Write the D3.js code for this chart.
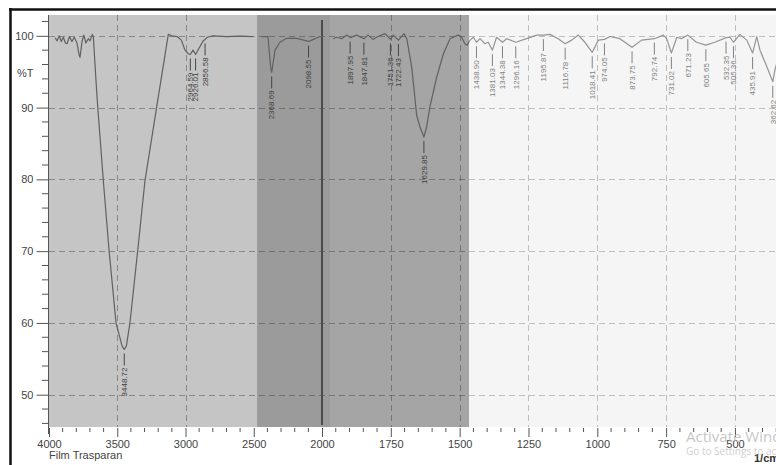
<!DOCTYPE html>
<html>
<head>
<meta charset="utf-8">
<script src="https://cdn.jsdelivr.net/npm/d3@7"></script>
<style>
    html, body { margin: 0; padding: 0; background: #fff; }
    svg { display: block; font-family: "Liberation Sans", Arial, sans-serif; }
</style>
</head>
<body>
<div id="chart"></div>
<script>
// spectrum as [wavenumber (1/cm), %T]; null marks a gap in the trace
const spectrum = [
    [3955, 99.7], [3940, 99.3], [3925, 100.0], [3910, 99.2], [3895, 99.8], [3880, 99.0],
    [3868, 98.9], [3850, 99.9], [3832, 99.2], [3815, 99.8], [3795, 99.0], [3780, 97.4],
    [3773, 97.0], [3758, 99.2], [3745, 100.1], [3730, 99.0], [3712, 99.6], [3700, 99.3],
    [3682, 100.2], [3675, 99.8], [3656, 93.8], [3643, 90.1], [3602, 79.8], [3560, 70.1],
    [3509, 60.0], [3465, 56.8], [3448.72, 56.3], [3433, 56.8], [3407, 60.0], [3350, 70.1],
    [3297, 79.8], [3211, 90.1], [3126, 100.2],
    [3100, 100.0], [3062, 99.9], [3030, 99.4], [3004, 98.0], [2980, 97.5], [2964.59, 97.4],
    [2945, 98.0], [2926.01, 97.4], [2900, 98.3], [2870, 99.3], [2856.58, 99.5], [2840, 99.8],
    [2800, 100.0], [2700, 99.9], [2600, 99.95], [2505, 99.9],
    [2490, null],
    [2442, 99.9], [2396, 99.9], [2376, 95.6], [2368.69, 94.9], [2344, 98.0], [2308, 99.1],
    [2259, 99.65], [2185, 99.65], [2112, 99.3], [2098.55, 99.2], [2075, 99.4], [2015, 99.9],
    [1996, 99.9],
    [1975, null],
    [1959, 99.6], [1947, 99.8], [1928, 99.6], [1910, 100.1], [1897.95, 99.75], [1874, 100.1],
    [1847.81, 99.6], [1833, 100.1], [1815, 99.5], [1797, 99.9], [1771, 100.3], [1751.36, 99.5],
    [1741, 100.1], [1722.43, 99.4], [1702, 100.3], [1692, 99.6], [1674, 95.6], [1656, 88.9],
    [1644, 87.3], [1629.85, 85.9], [1620, 87.3], [1608, 90.1], [1583, 94.3], [1559, 97.5],
    [1535, 99.6], [1517, 99.9], [1505, 100.1], [1493, 99.8], [1481, 98.9], [1473, 98.7],
    [1462, 99.4], [1450, 99.8], [1438.90, 99.1], [1426, 99.6], [1408, 98.9], [1396, 99.1],
    [1381.03, 98.0], [1366, 99.8], [1344.38, 99.1], [1329, 99.6], [1296.16, 99.1], [1257, 99.6],
    [1220, 100.1], [1195.87, 100.1], [1172, 100.2], [1142, 99.6], [1116.78, 98.9], [1093, 99.4],
    [1069, 100.1], [1045, 99.1], [1018.41, 97.7], [996, 99.4], [974.05, 99.5], [954, 99.9],
    [918, 99.6], [873.75, 98.4], [839, 99.4], [792.74, 99.6], [760, 100.1], [748, 99.6],
    [731.02, 97.6], [711, 99.8], [694, 99.6], [671.23, 100.1], [640, 99.1], [605.65, 98.7],
    [573, 99.1], [532.35, 99.75], [518, 99.8], [505.36, 99.1], [482, 100.2], [457, 99.4],
    [435.91, 97.6], [421, 99.9], [409, 98.0], [379, 95.2], [362.62, 93.6], [355, 95.2],
    [340, 97.3]
];

const peakLabels = [
    3448.72, 2964.59, 2926.01, 2856.58, 2368.69, 2098.55, 1897.95, 1847.81, 1751.36,
    1722.43, 1629.85, 1438.90, 1381.03, 1344.38, 1296.16, 1195.87, 1116.78, 1018.41,
    974.05, 873.75, 792.74, 731.02, 671.23, 605.65, 532.35, 505.36, 435.91, 362.62
];

const yTicks = [50, 60, 70, 80, 90, 100];
const xTicks = [4000, 3500, 3000, 2500, 2000, 1750, 1500, 1250, 1000, 750, 500];
const xGrid = [3500, 3000, 1750, 1500, 1250, 1000, 750, 500];
const bandEdges = [4000, 2476, 1971, 1466, 340];
const bandFill = ["#c5c5c5", "#9b9b9b", "#a5a5a5", "#f4f4f4"];

const width = 776, height = 465;
const plotTop = 15, plotBottom = 427, plotLeft = 49, plotRight = 779;

const svg = d3.select("#chart").append("svg")
    .attr("width", width)
    .attr("height", height);

// wavenumber axis is expanded below 2000 1/cm
const x = d3.scaleLinear().domain([4000, 2000, 340]).range([plotLeft, 322, plotRight]);
const y = d3.scaleLinear().domain([45.5, 102.9]).range([plotBottom, plotTop]);

// background bands
svg.append("g").selectAll("rect")
    .data(d3.range(bandFill.length))
    .enter().append("rect")
    .attr("x", i => x(bandEdges[i]))
    .attr("y", plotTop)
    .attr("width", i => x(bandEdges[i + 1]) - x(bandEdges[i]))
    .attr("height", plotBottom - plotTop)
    .attr("fill", i => bandFill[i]);

// dashed grid
const grid = svg.append("g")
    .attr("stroke", "rgba(60,60,60,0.45)")
    .attr("stroke-dasharray", "6,4")
    .attr("stroke-width", 1);
grid.selectAll("line.h").data(yTicks).enter().append("line")
    .attr("class", "h")
    .attr("x1", plotLeft).attr("x2", plotRight)
    .attr("y1", d => Math.round(y(d)) + 0.5).attr("y2", d => Math.round(y(d)) + 0.5);
grid.selectAll("line.v").data(xGrid).enter().append("line")
    .attr("class", "v")
    .attr("x1", d => Math.round(x(d)) + 0.5).attr("x2", d => Math.round(x(d)) + 0.5)
    .attr("y1", plotTop).attr("y2", plotBottom);

// solid marker at 2000
svg.append("line")
    .attr("x1", x(2000)).attr("x2", x(2000))
    .attr("y1", 20).attr("y2", plotBottom - 2)
    .attr("stroke", "#4a4a4a")
    .attr("stroke-width", 2);

// spectrum trace
const line = d3.line()
    .defined(d => d[1] != null)
    .x(d => x(d[0]))
    .y(d => y(d[1]));

svg.append("path")
    .datum(spectrum)
    .attr("d", line)
    .attr("fill", "none")
    .attr("stroke", "#616161")
    .attr("stroke-width", 1.2)
    .attr("stroke-linejoin", "round");

// %T of the trace at a wavenumber
function valueAt(wn) {
    const pts = spectrum.filter(d => d[1] != null);
    for (let i = 0; i < pts.length - 1; i++) {
        const a = pts[i], b = pts[i + 1];
        if (wn <= a[0] && wn >= b[0]) {
            const t = (a[0] - wn) / (a[0] - b[0]);
            return a[1] + t * (b[1] - a[1]);
        }
    }
    return 100;
}

// peak labels
const labels = svg.append("g").selectAll("g")
    .data(peakLabels)
    .enter().append("g")
    .attr("transform", d => `translate(${x(d)},${y(valueAt(d)) + 4})`);

labels.append("line")
    .attr("x1", 0).attr("x2", 0)
    .attr("y1", 0).attr("y2", 12)
    .attr("stroke", "#444")
    .attr("stroke-width", 1);

labels.append("text")
    .attr("transform", "translate(0,14) rotate(-90)")
    .attr("text-anchor", "end")
    .attr("dy", "0.35em")
    .attr("font-size", 8)
    .attr("fill", "#404040")
    .text(d => d.toFixed(2));

// soften the last band
svg.append("rect")
    .attr("x", x(bandEdges[3]))
    .attr("y", plotTop)
    .attr("width", plotRight - x(bandEdges[3]))
    .attr("height", plotBottom - plotTop)
    .attr("fill", "#f6f6f6")
    .attr("opacity", 0.35);

// y axis
const yAxis = svg.append("g")
    .attr("transform", "translate(48.5,0)")
    .call(d3.axisLeft(y).tickValues(yTicks).tickSize(12).tickSizeOuter(0).tickPadding(3));
yAxis.select(".domain").remove();
yAxis.selectAll(".tick line").attr("stroke", "#555");
yAxis.selectAll("text")
    .attr("font-size", 11)
    .attr("font-family", "Liberation Sans, Arial, sans-serif")
    .attr("fill", "#444");

svg.append("line")
    .attr("x1", 48.5).attr("x2", 48.5)
    .attr("y1", plotTop).attr("y2", 434)
    .attr("stroke", "#555");

svg.append("g").selectAll("line")
    .data(d3.range(46, 103, 2).filter(d => d % 10 !== 0))
    .enter().append("line")
    .attr("x1", 42).attr("x2", 48)
    .attr("y1", d => y(d)).attr("y2", d => y(d))
    .attr("stroke", "#555");

// x axis
const xAxis = svg.append("g")
    .attr("transform", `translate(0,${plotBottom + 1})`)
    .call(d3.axisBottom(x).tickValues(xTicks).tickSize(9).tickSizeOuter(0).tickPadding(3).tickFormat(d3.format("d")));
xAxis.select(".domain").remove();
xAxis.selectAll(".tick line").attr("stroke", "#555");
xAxis.selectAll("text")
    .attr("font-size", 11)
    .attr("font-family", "Liberation Sans, Arial, sans-serif")
    .attr("fill", "#444");

const minorX = d3.range(3900, 2000, -100).concat(d3.range(1950, 340, -50))
    .filter(d => xTicks.indexOf(d) < 0);
svg.append("g").selectAll("line")
    .data(minorX)
    .enter().append("line")
    .attr("x1", d => x(d)).attr("x2", d => x(d))
    .attr("y1", plotBottom + 1).attr("y2", plotBottom + 5)
    .attr("stroke", "#555");

// axis titles
svg.append("text")
    .attr("x", 17).attr("y", 77)
    .attr("font-size", 11)
    .attr("fill", "#444")
    .text("%T");

svg.append("text")
    .attr("x", 49).attr("y", 459)
    .attr("font-size", 11)
    .attr("fill", "#444")
    .text("Film Trasparan");

svg.append("text")
    .attr("x", 754).attr("y", 462)
    .attr("font-size", 11)
    .attr("font-weight", "bold")
    .attr("fill", "#333")
    .text("1/cm");

// screen watermark
svg.append("text")
    .attr("x", 686).attr("y", 442)
    .attr("font-family", "Open Sans, Noto Sans, sans-serif")
    .attr("font-size", 15)
    .attr("fill", "#bdbdbd")
    .attr("opacity", 0.85)
    .text("Activate Windows");

svg.append("text")
    .attr("x", 686).attr("y", 455)
    .attr("font-family", "Open Sans, Noto Sans, sans-serif")
    .attr("font-size", 10)
    .attr("fill", "#cfcfcf")
    .text("Go to Settings to activate Windows.");

// outer frame
svg.append("line")
    .attr("x1", 9).attr("x2", width)
    .attr("y1", 9.5).attr("y2", 9.5)
    .attr("stroke", "#111")
    .attr("stroke-width", 2.5);
svg.append("line")
    .attr("x1", 10.5).attr("x2", 10.5)
    .attr("y1", 8).attr("y2", height)
    .attr("stroke", "#111")
    .attr("stroke-width", 2.5);
</script>
</body>
</html>
